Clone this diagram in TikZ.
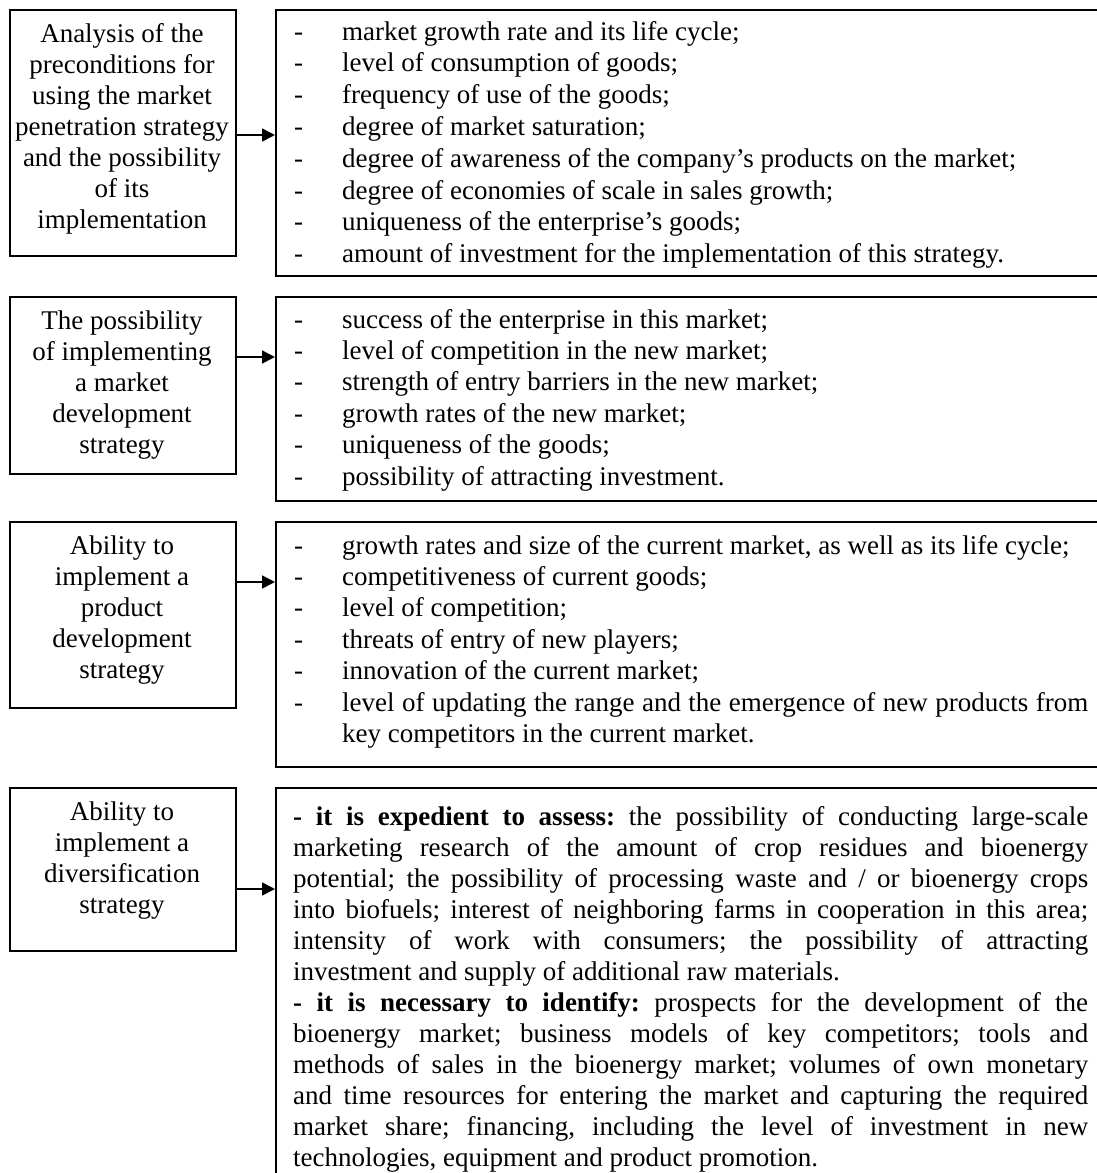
\documentclass[tikz,border=0pt]{standalone}
\usepackage{fontspec}
\setmainfont{Liberation Serif}
\usetikzlibrary{arrows.meta}
\newcommand\myitem[1]{\noindent\hangindent=48pt\hangafter=1\makebox[48pt][l]{-}#1\par}
\begin{document}
\begin{tikzpicture}[x=1pt,y=-1pt,
  box/.style={draw, line width=1.6pt, inner sep=0pt, anchor=north west},
  txt/.style={inner sep=0pt},
  arr/.style={line width=1.6pt, -{Triangle[length=13pt,width=13pt]}},
  font=\fontsize{27}{31}\selectfont]
\useasboundingbox (0,0) rectangle (1097,1173);
\clip (0,0) rectangle (1097,1173);
\tolerance=10000 \hyphenpenalty=10000 \emergencystretch=20pt \frenchspacing

% boxes
\node[box, minimum width=226pt, minimum height=246pt] (l1) at (9,9) {};
\node[box, minimum width=840pt, minimum height=266pt] (r1) at (275,9) {};
\node[box, minimum width=226pt, minimum height=177pt] (l2) at (9,296) {};
\node[box, minimum width=840pt, minimum height=204pt] (r2) at (275,296) {};
\node[box, minimum width=226pt, minimum height=186pt] (l3) at (9,521) {};
\node[box, minimum width=840pt, minimum height=245pt] (r3) at (275,521) {};
\node[box, minimum width=226pt, minimum height=163pt] (l4) at (9,787) {};
\node[box, minimum width=840pt, minimum height=420pt] (r4) at (275,787) {};

% arrows
\coordinate (a1) at (0,135);
\coordinate (a2) at (0,357);
\coordinate (a3) at (0,582);
\coordinate (a4) at (0,889);
\draw[arr] (l1.east |- a1) -- (r1.west |- a1);
\draw[arr] (l2.east |- a2) -- (r2.west |- a2);
\draw[arr] (l3.east |- a3) -- (r3.west |- a3);
\draw[arr] (l4.east |- a4) -- (r4.west |- a4);

% left texts
\node[txt, anchor=base] (lt1) at (122,42) {\parbox[t]{226pt}{\centering Analysis of the\\ preconditions for\\ using the market\\ penetration strategy\\ and the possibility\\ of its\\ implementation}};
\node[txt, anchor=base] (lt2) at (122,329) {\parbox[t]{226pt}{\centering The possibility\\ of implementing\\ a market\\ development\\ strategy}};
\node[txt, anchor=base] (lt3) at (122,554) {\parbox[t]{226pt}{\centering Ability to\\ implement a\\ product\\ development\\ strategy}};
\node[txt, anchor=base] (lt4) at (122,820) {\parbox[t]{226pt}{\centering Ability to\\ implement a\\ diversification\\ strategy}};

% right texts
\node[txt, anchor=base west] (rt1) at (294,40) {\parbox[t]{794pt}{\fontsize{27}{31.8}\selectfont
\myitem{market growth rate and its life cycle;}
\myitem{level of consumption of goods;}
\myitem{frequency of use of the goods;}
\myitem{degree of market saturation;}
\myitem{degree of awareness of the company’s products on the market;}
\myitem{degree of economies of scale in sales growth;}
\myitem{uniqueness of the enterprise’s goods;}
\myitem{amount of investment for the implementation of this strategy.}}};

\node[txt, anchor=base west] (rt2) at (294,328) {\parbox[t]{794pt}{\fontsize{27}{31.4}\selectfont
\myitem{success of the enterprise in this market;}
\myitem{level of competition in the new market;}
\myitem{strength of entry barriers in the new market;}
\myitem{growth rates of the new market;}
\myitem{uniqueness of the goods;}
\myitem{possibility of attracting investment.}}};

\node[txt, anchor=base west] (rt3) at (294,554) {\parbox[t]{794pt}{\fontsize{27}{31.4}\selectfont
\myitem{growth rates and size of the current market, as well as its life cycle;}
\myitem{competitiveness of current goods;}
\myitem{level of competition;}
\myitem{threats of entry of new players;}
\myitem{innovation of the current market;}
\myitem{level of updating the range and the emergence of new products from\linebreak key competitors in the current market.}}};

\node[txt, anchor=base west] (rt4) at (293,825) {\parbox[t]{795pt}{%
\noindent\textbf{- it is expedient to assess:} the possibility of conducting large-scale\linebreak
marketing research of the amount of crop residues and bioenergy\linebreak
potential; the possibility of processing waste and / or bioenergy crops\linebreak
into biofuels; interest of neighboring farms in cooperation in this area;\linebreak
intensity of work with consumers; the possibility of attracting\linebreak
investment and supply of additional raw materials.\par
\noindent\textbf{- it is necessary to identify:} prospects for the development of the\linebreak
bioenergy market; business models of key competitors; tools and\linebreak
methods of sales in the bioenergy market; volumes of own monetary\linebreak
and time resources for entering the market and capturing the required\linebreak
market share; financing, including the level of investment in new\linebreak
technologies, equipment and product promotion.}};
\end{tikzpicture}
\end{document}
